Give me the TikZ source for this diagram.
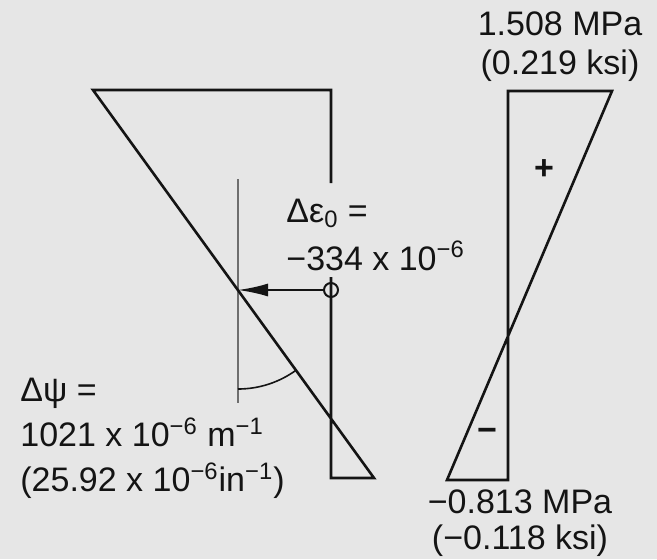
\documentclass[tikz,border=0pt]{standalone}
\usepackage{fontspec}
\setmainfont{Liberation Sans}
\usetikzlibrary{arrows.meta}
\definecolor{paper}{RGB}{230,230,230}
\definecolor{ink}{RGB}{20,20,20}
\definecolor{guide}{RGB}{110,110,110}

\begin{document}
\begin{tikzpicture}[
    x=0.5pt, y=-0.5pt,
    line join=miter,
    diag/.style={draw=ink, line width=1.3pt},
    guideline/.style={draw=guide, line width=1pt},
    lbl/.style={font=\fontsize{17}{22.5}\selectfont, text=ink, inner sep=0pt, align=left},
    sgn/.style={font=\fontsize{17}{20}\selectfont\bfseries, text=ink, inner sep=0pt},
    arr/.style={-{Latex[length=15pt,width=6.5pt]}, draw=ink, line width=1pt}
]
\fill[paper] (0,0) rectangle (657,559);
\useasboundingbox (0,0) rectangle (657,559);

% strain diagram
\coordinate (stop) at (331,183);
\coordinate (sbot) at (331,277);
\coordinate (tl) at (93,90);
\coordinate (br) at (374,478);
\coordinate (pivot) at (238,290);
\coordinate (cg) at (331,290);

\draw[guideline] (238,179) -- (238,403);
\draw[diag] (stop) -- (331,90) -- (tl) -- (br) -- (331,478) -- (sbot);
\draw[ink, line width=1pt] (cg) circle[radius=7];
\draw[arr] (cg) ++(-7,0) -- (pivot);
\draw[ink, line width=0.8pt] (pivot) ++(90:99) arc[start angle=90, end angle=54, radius=99];

\node[lbl, anchor=west] (deps) at (286,213) {Δε\textsubscript{0} =};
\node[lbl, anchor=west] (epsval) at (286,256) {−334 x 10\textsuperscript{−6}};
\node[lbl, anchor=north west] (dpsi) at (20,378) {Δψ =\\
  1021 x 10\textsuperscript{−6} m\textsuperscript{−1}\\
  (25.92 x 10\textsuperscript{−6}in\textsuperscript{−1})};

% stress diagram
\draw[diag] (508,91) -- (612,91) -- (447,480) -- (508,480) -- cycle;
\node[sgn] (plus) at (544,170) {+};
\node[sgn] (minus) at (487,435) {−};

\node[lbl, align=center, font=\fontsize{17}{19.5}\selectfont] (topval) at (560,47) {1.508 MPa\\(0.219 ksi)};
\node[lbl, align=center, font=\fontsize{17}{18}\selectfont] (botval) at (520,523) {−0.813 MPa\\(−0.118 ksi)};

\end{tikzpicture}
\end{document}
